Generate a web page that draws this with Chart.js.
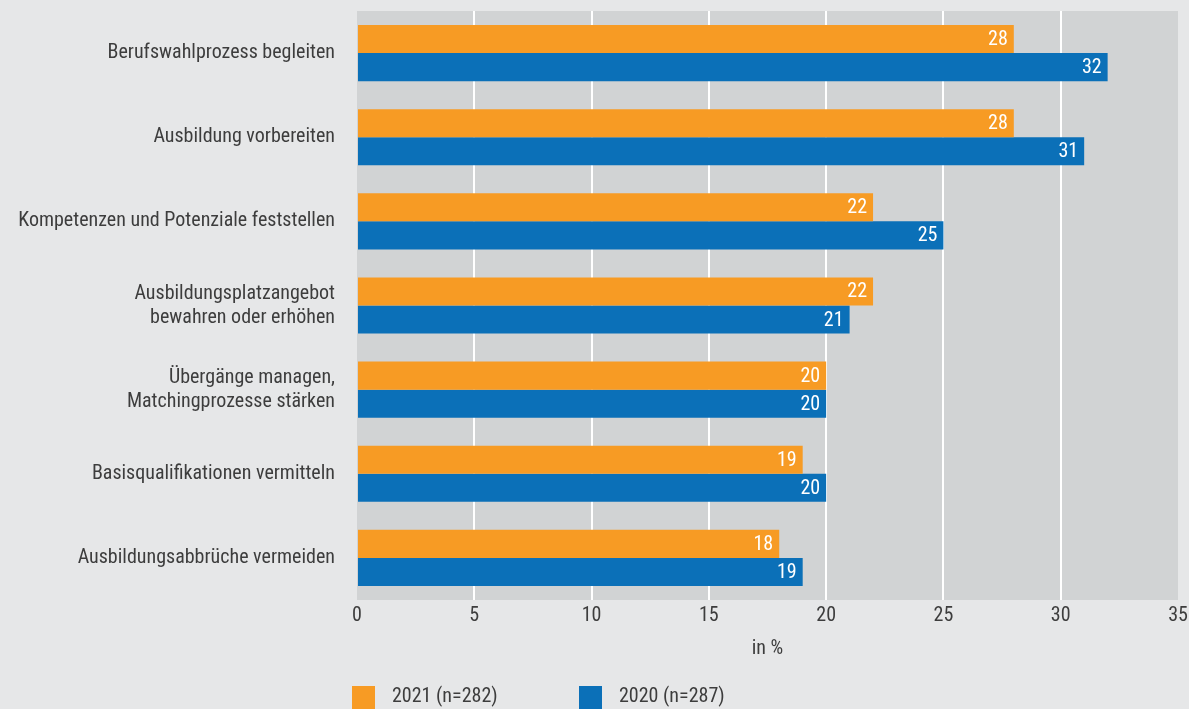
<!DOCTYPE html>
<html>
<head>
<meta charset="utf-8">
<script src="https://cdn.jsdelivr.net/npm/chart.js@4/dist/chart.umd.min.js"></script>
<style>
  html, body { margin:0; padding:0; background:#e6e7e8; }
  #wrap { width:1189px; height:709px; }
</style>
</head>
<body>
<div id="wrap"><canvas id="barChart" width="1189" height="709"></canvas></div>
<script>
var categories = [
  "Berufswahlprozess begleiten",
  "Ausbildung vorbereiten",
  "Kompetenzen und Potenziale feststellen",
  ["Ausbildungsplatzangebot", "bewahren oder erhöhen"],
  ["Übergänge managen,", "Matchingprozesse stärken"],
  "Basisqualifikationen vermitteln",
  "Ausbildungsabbrüche vermeiden"
];
var values2021 = [28, 28, 22, 22, 20, 19, 18];
var values2020 = [32, 31, 25, 21, 20, 20, 19];
var seriesNames = ["2021 (n=282)", "2020 (n=287)"];
var seriesColors = ["#f79b24", "#0b70b8"];

var fontFam = "'Liberation Sans Narrow', 'Roboto Condensed', 'Roboto', sans-serif";
var textCol = "#3d3d3d";

// grauer Hintergrund für den Plotbereich
var plotBg = {
  id: 'plotBg',
  beforeDraw: function(chart){
    var a = chart.chartArea, c = chart.ctx;
    c.save();
    c.fillStyle = '#d1d3d4';
    c.fillRect(a.left, a.top, a.right - a.left, a.bottom - a.top);
    c.restore();
  }
};

// Werte in die Balken schreiben
var barValues = {
  id: 'barValues',
  afterDatasetsDraw: function(chart){
    var c = chart.ctx;
    c.save();
    c.fillStyle = '#ffffff';
    c.font = '20px ' + fontFam;
    c.textAlign = 'right';
    c.textBaseline = 'middle';
    chart.data.datasets.forEach(function(ds, i){
      chart.getDatasetMeta(i).data.forEach(function(bar, j){
        c.fillText(ds.data[j], bar.x - 6, bar.y + 1);
      });
    });
    c.restore();
  }
};

// Legende unten links
var bottomLegend = {
  id: 'bottomLegend',
  afterDraw: function(chart){
    var c = chart.ctx;
    var x0 = chart.scales.x.left - 5;
    var y0 = 686;
    c.save();
    c.font = '20px ' + fontFam;
    c.textBaseline = 'middle';
    var xs = [x0, x0 + 227];
    chart.data.datasets.forEach(function(ds, i){
      c.fillStyle = ds.backgroundColor;
      c.fillRect(xs[i], y0, 23, 23);
      c.fillStyle = textCol;
      c.fillText(ds.label, xs[i] + 40, y0 + 11);
    });
    c.restore();
  }
};

var ctx = document.getElementById("barChart").getContext("2d");
var barChart = new Chart(ctx, {
  type: 'bar',
  data: {
    labels: categories,
    datasets: [
      { label: seriesNames[0], data: values2021, backgroundColor: seriesColors[0],
        categoryPercentage: 0.667, barPercentage: 1.0 },
      { label: seriesNames[1], data: values2020, backgroundColor: seriesColors[1],
        categoryPercentage: 0.667, barPercentage: 1.0 }
    ]
  },
  options: {
    indexAxis: 'y',
    responsive: false,
    animation: false,
    layout: { padding: { top: 11, right: 11, bottom: 44, left: 0 } },
    plugins: {
      legend: { display: false },
      tooltip: { enabled: false }
    },
    scales: {
      x: {
        min: 0, max: 35,
        ticks: { stepSize: 5, color: textCol, font: { family: fontFam, size: 20 }, padding: 4 },
        grid: {
          drawTicks: false,
          lineWidth: 2,
          color: function(ctx){
            var v = ctx.tick ? ctx.tick.value : 0;
            return (v === 0 || v === 35) ? 'rgba(0,0,0,0)' : '#ffffff';
          }
        },
        border: { display: false },
        title: { display: true, text: 'in %', color: textCol, font: { family: fontFam, size: 20 }, padding: { top: 6 } },
        afterFit: function(s){ s.height = 65; s.paddingRight = 0; }
      },
      y: {
        ticks: { color: textCol, font: { family: fontFam, size: 20 }, padding: 14 },
        grid: { display: false },
        border: { display: false },
        afterFit: function(s){ s.width = 357; s.paddingTop = 0; s.paddingBottom = 0; }
      }
    }
  },
  plugins: [plotBg, barValues, bottomLegend]
});
</script>
</body>
</html>
